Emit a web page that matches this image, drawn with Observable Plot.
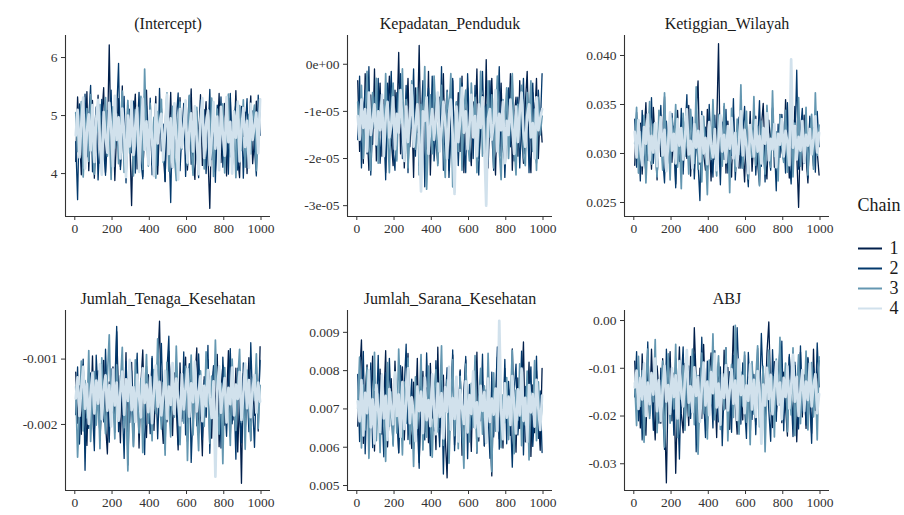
<!DOCTYPE html>
<html><head><meta charset="utf-8">
<script src="https://cdn.jsdelivr.net/npm/d3@7"></script>
<script src="https://cdn.jsdelivr.net/npm/@observablehq/plot@0.6"></script>
<style>
body{margin:0;background:#fff;}
#chart{position:relative;width:904px;height:515px;overflow:hidden;background:#fff;}
#chart svg{position:absolute;overflow:visible;}
</style></head><body><div id="chart"></div>
<script>
const chains = ["1","2","3","4"];
const chainColors = ["#011f4b","#03396c","#6497b1","#d1e1ec"];
const parameters = ["(Intercept)","Kepadatan_Penduduk","Ketiggian_Wilayah","Jumlah_Tenaga_Kesehatan","Jumlah_Sarana_Kesehatan","ABJ"];
const xTicks = [0,200,400,600,800,1000];
const xTickLabels = ["0","200","400","600","800","1000"];

// (Intercept)
const interceptC1 = [4.21,5.32,4.65,3.98,5.12,4.44,5.41,4.05,4.88,5.26,3.92,4.71,5.35,4.18,4.96,5.48,4.02,4.57,6.22,4.33,5.05,3.88,4.76,5.29,4.12,5.51,4.40,3.97,5.18,4.63,3.45,4.92,5.37,4.08,4.69,5.22,3.95,4.84,5.44,4.27,5.09,4.15,4.58,5.33,3.99,4.81,5.14,4.36,3.86,5.27,4.52,5.40,4.10,4.74,5.02,3.94,5.31,4.47,4.89,5.19,4.06,4.67,5.46,4.23,3.90,5.08,4.55,5.36,4.14,4.79,5.24,4.31,3.40,4.98,5.13,4.03,4.61,5.38,4.19,4.86,5.21,3.96,4.72,5.30,4.09,4.50,5.43,4.26,3.93,5.16,4.64,5.06,4.00,4.83,5.34,4.17,4.59,5.25,4.37,5.28];
const interceptC2 = [4.55,3.55,5.20,4.88,4.12,5.37,4.29,4.96,5.52,4.03,4.70,5.15,3.89,4.62,5.28,4.41,3.97,5.09,4.80,5.44,4.18,4.93,5.05,5.90,4.07,4.58,5.33,3.84,4.75,5.11,4.36,5.25,4.01,4.67,5.40,4.22,3.91,4.99,5.17,4.45,5.30,3.98,4.73,5.06,4.14,5.47,4.39,4.85,3.87,5.23,4.60,3.50,5.13,4.28,4.94,5.39,4.05,4.68,5.21,3.95,4.82,5.34,4.16,4.53,5.02,4.32,3.93,5.27,4.77,5.10,4.00,4.63,5.45,4.24,4.91,3.85,5.18,4.46,5.32,4.11,4.72,5.04,3.99,5.38,4.34,4.87,5.22,4.06,4.59,5.14,3.92,4.78,5.29,4.20,4.95,5.08,4.43,3.96,5.35,4.66];
const interceptC3 = [5.05,4.38,4.80,5.24,3.94,4.66,5.12,4.21,5.36,4.49,3.99,5.00,4.73,5.19,4.10,4.59,5.31,4.30,4.86,3.90,5.15,4.44,5.03,4.17,4.78,5.42,4.02,4.64,5.26,4.35,4.91,3.96,5.10,4.54,4.25,5.33,4.07,5.80,4.61,4.13,5.21,4.48,4.97,3.92,5.07,4.70,5.28,4.19,4.83,5.39,4.04,4.57,5.16,4.32,3.88,4.95,5.23,4.42,4.76,5.01,4.15,5.35,4.51,3.97,4.89,5.14,4.27,4.69,5.25,4.08,4.81,5.04,4.37,5.30,3.95,4.62,5.11,4.23,4.90,5.20,4.01,4.74,5.37,4.29,4.56,5.08,3.93,4.85,5.17,4.40,5.27,4.11,4.67,5.02,4.34,4.93,5.18,4.05,4.71,5.22];
const interceptC4 = [4.66,5.10,4.28,4.85,5.31,4.09,4.74,5.02,4.40,5.18,4.20,4.92,5.27,4.55,3.98,5.06,4.63,4.36,5.22,4.79,4.12,5.34,4.58,4.97,4.26,5.12,4.70,3.94,5.00,4.47,5.25,4.32,4.82,5.14,4.03,4.68,5.29,4.41,4.90,4.16,5.08,4.60,3.96,5.19,4.52,4.87,5.03,4.23,4.75,5.36,4.34,4.95,4.11,5.21,4.64,3.90,5.11,4.45,4.80,5.26,4.19,4.72,5.04,4.38,5.16,4.57,3.99,4.93,5.30,4.27,4.84,5.09,4.14,4.61,5.23,4.43,4.98,4.06,5.15,4.69,4.31,5.32,4.54,4.89,4.00,5.07,4.62,5.24,4.21,4.78,5.13,4.46,4.91,4.10,5.20,4.58,4.83,5.05,4.35,5.28];

// Kepadatan_Penduduk
const kepadatanC1 = [-0.35e-5,-1.85e-5,-0.90e-5,-2.10e-5,-0.20e-5,-1.40e-5,-2.25e-5,-0.65e-5,-1.70e-5,-0.10e-5,-2.05e-5,-1.15e-5,-0.40e-5,-1.95e-5,-0.75e-5,-2.30e-5,-1.05e-5,-0.25e-5,-1.60e-5,-2.15e-5,-0.55e-5,-1.30e-5,0.25e-5,-1.90e-5,-0.80e-5,-2.20e-5,-1.25e-5,-0.30e-5,-1.75e-5,-0.95e-5,-2.40e-5,-0.50e-5,-1.45e-5,0.40e-5,-2.00e-5,-1.10e-5,-0.60e-5,-1.80e-5,-0.15e-5,-2.35e-5,-1.00e-5,-0.45e-5,-1.65e-5,-2.10e-5,-0.70e-5,-1.35e-5,-0.20e-5,-1.95e-5,-0.85e-5,-2.25e-5,-1.20e-5,-0.35e-5,-2.05e-5,-1.55e-5,-0.60e-5,-1.85e-5,-0.25e-5,-2.30e-5,-1.05e-5,-0.50e-5,-1.70e-5,-2.15e-5,-0.80e-5,-1.30e-5,-0.10e-5,-2.00e-5,-1.45e-5,-0.65e-5,-1.90e-5,0.10e-5,-2.20e-5,-1.00e-5,-0.30e-5,-1.60e-5,-2.35e-5,-0.75e-5,-1.25e-5,-0.40e-5,-1.80e-5,-2.05e-5,-0.55e-5,-1.40e-5,-0.20e-5,-2.25e-5,-1.10e-5,-0.70e-5,-1.95e-5,-0.35e-5,-1.50e-5,-2.10e-5,-0.85e-5,-0.15e-5,-1.75e-5,-2.30e-5,-0.60e-5,-1.20e-5,-0.30e-5,-2.00e-5,-0.95e-5,-1.65e-5];
const kepadatanC2 = [-1.60e-5,-0.25e-5,-2.20e-5,-1.00e-5,-0.55e-5,-1.90e-5,-0.05e-5,-2.35e-5,-1.30e-5,-0.70e-5,-1.75e-5,-0.30e-5,-2.10e-5,-1.45e-5,-0.85e-5,-2.45e-5,-0.40e-5,-1.20e-5,-0.15e-5,-1.85e-5,-2.25e-5,-0.60e-5,-1.05e-5,-0.20e-5,-2.00e-5,-1.55e-5,-0.45e-5,-2.30e-5,-0.90e-5,-1.35e-5,-0.10e-5,-1.95e-5,-0.65e-5,-2.15e-5,-1.25e-5,-0.35e-5,-2.60e-5,-1.00e-5,-0.50e-5,-1.70e-5,-0.25e-5,-2.05e-5,-1.40e-5,-0.75e-5,-1.85e-5,-0.05e-5,-2.25e-5,-1.15e-5,-0.55e-5,-2.40e-5,-1.50e-5,-0.30e-5,-1.90e-5,-0.80e-5,-2.15e-5,-1.10e-5,-0.40e-5,-1.65e-5,-2.30e-5,-0.20e-5,-1.30e-5,-0.70e-5,-2.00e-5,-0.45e-5,-1.80e-5,-2.35e-5,-1.05e-5,-0.15e-5,-1.55e-5,-0.85e-5,-2.10e-5,-0.35e-5,-1.45e-5,-2.25e-5,-0.60e-5,-1.20e-5,-0.05e-5,-1.95e-5,-0.90e-5,-2.40e-5,-1.35e-5,-0.50e-5,-1.75e-5,-0.25e-5,-2.05e-5,-1.00e-5,-0.70e-5,-2.20e-5,-1.25e-5,-0.30e-5,-1.90e-5,-0.80e-5,-2.30e-5,-1.15e-5,-0.40e-5,-1.60e-5,-2.10e-5,-0.55e-5,-1.40e-5,-0.20e-5];
const kepadatanC3 = [-0.80e-5,-1.55e-5,-0.45e-5,-2.00e-5,-1.20e-5,-0.15e-5,-1.75e-5,-2.25e-5,-0.60e-5,-1.35e-5,-0.30e-5,-2.10e-5,-1.00e-5,-0.70e-5,-1.85e-5,-0.20e-5,-1.45e-5,-2.30e-5,-0.90e-5,-0.40e-5,-1.65e-5,-2.05e-5,-0.55e-5,-1.25e-5,-0.10e-5,-1.95e-5,-0.75e-5,-2.20e-5,-1.40e-5,-0.35e-5,-1.10e-5,-1.80e-5,-0.50e-5,-2.35e-5,-0.85e-5,-1.30e-5,-0.05e-5,-2.65e-5,-1.50e-5,-0.65e-5,-1.90e-5,-0.25e-5,-1.15e-5,-2.15e-5,-0.95e-5,-0.45e-5,-1.70e-5,-2.40e-5,-0.60e-5,-1.05e-5,-0.20e-5,-2.60e-5,-1.35e-5,-0.80e-5,-1.85e-5,-0.30e-5,-2.25e-5,-1.00e-5,-0.55e-5,-1.60e-5,-2.05e-5,-0.40e-5,-1.25e-5,-0.70e-5,-2.30e-5,-1.45e-5,-0.15e-5,-1.95e-5,-0.90e-5,-2.10e-5,-0.35e-5,-1.55e-5,-0.65e-5,-2.20e-5,-1.15e-5,-0.25e-5,-1.80e-5,-2.45e-5,-0.75e-5,-1.30e-5,-0.50e-5,-2.00e-5,-1.05e-5,-0.20e-5,-1.70e-5,-2.35e-5,-0.85e-5,-1.40e-5,-0.45e-5,-1.95e-5,-2.15e-5,-0.60e-5,-1.20e-5,-0.35e-5,-1.85e-5,-0.95e-5,-2.25e-5,-0.70e-5,-1.50e-5,-1.10e-5];
const kepadatanC4 = [-1.10e-5,-1.60e-5,-0.75e-5,-1.35e-5,-0.95e-5,-1.85e-5,-0.60e-5,-1.50e-5,-1.20e-5,-0.85e-5,-1.70e-5,-1.00e-5,-1.40e-5,-0.65e-5,-1.95e-5,-1.15e-5,-0.80e-5,-1.55e-5,-1.30e-5,-0.70e-5,-1.80e-5,-1.05e-5,-1.45e-5,-0.55e-5,-1.25e-5,-2.05e-5,-0.90e-5,-1.65e-5,-1.10e-5,-0.45e-5,-1.75e-5,-1.35e-5,-0.85e-5,-1.55e-5,-2.70e-5,-1.00e-5,-1.20e-5,-0.70e-5,-1.90e-5,-1.30e-5,-0.95e-5,-1.60e-5,-1.15e-5,-0.60e-5,-1.85e-5,-1.40e-5,-0.80e-5,-1.25e-5,-2.00e-5,-1.05e-5,-0.75e-5,-1.50e-5,-2.75e-5,-0.90e-5,-1.65e-5,-1.20e-5,-0.50e-5,-1.45e-5,-1.00e-5,-1.80e-5,-1.30e-5,-0.65e-5,-1.55e-5,-1.10e-5,-1.95e-5,-0.85e-5,-1.35e-5,-0.70e-5,-1.70e-5,-3.00e-5,-1.15e-5,-0.95e-5,-1.60e-5,-1.25e-5,-0.55e-5,-1.85e-5,-1.05e-5,-1.40e-5,-0.80e-5,-2.10e-5,-1.20e-5,-1.50e-5,-0.75e-5,-1.35e-5,-1.90e-5,-0.90e-5,-1.65e-5,-1.00e-5,-0.60e-5,-1.45e-5,-1.75e-5,-1.10e-5,-0.85e-5,-1.55e-5,-1.25e-5,-2.00e-5,-0.70e-5,-1.40e-5,-1.15e-5,-0.95e-5];

// Ketiggian_Wilayah
const ketinggianC1 = [.0288,.0342,.0301,.0331,.0279,.0318,.0352,.0293,.0326,.0284,.0347,.0309,.0273,.0335,.0297,.0322,.0358,.0286,.0314,.0339,.0291,.0328,.0269,.0344,.0303,.0281,.0336,.0312,.0295,.0349,.0277,.0321,.0306,.0341,.0374,.0289,.0330,.0299,.0283,.0345,.0316,.0272,.0337,.0294,.0325,.0412,.0287,.0310,.0348,.0280,.0333,.0302,.0276,.0340,.0292,.0319,.0285,.0353,.0307,.0271,.0329,.0296,.0343,.0282,.0313,.0338,.0290,.0268,.0327,.0351,.0298,.0274,.0334,.0308,.0346,.0286,.0320,.0279,.0340,.0304,.0293,.0355,.0315,.0275,.0332,.0289,.0348,.0300,.0245,.0324,.0283,.0339,.0297,.0270,.0336,.0311,.0287,.0344,.0302,.0278];
const ketinggianC2 = [.0335,.0286,.0319,.0272,.0344,.0300,.0281,.0338,.0308,.0357,.0290,.0326,.0277,.0311,.0349,.0295,.0270,.0333,.0303,.0284,.0341,.0314,.0265,.0328,.0292,.0346,.0279,.0321,.0360,.0288,.0305,.0337,.0274,.0317,.0290,.0252,.0343,.0299,.0327,.0282,.0350,.0306,.0276,.0339,.0289,.0316,.0268,.0332,.0294,.0345,.0280,.0323,.0298,.0356,.0273,.0310,.0337,.0285,.0320,.0348,.0291,.0266,.0329,.0304,.0342,.0278,.0313,.0354,.0287,.0325,.0271,.0336,.0301,.0283,.0347,.0309,.0262,.0330,.0296,.0340,.0318,.0280,.0352,.0293,.0269,.0334,.0306,.0385,.0284,.0322,.0346,.0290,.0312,.0275,.0338,.0299,.0326,.0281,.0343,.0307];
const ketinggianC3 = [.0310,.0347,.0280,.0322,.0295,.0339,.0270,.0315,.0353,.0289,.0330,.0302,.0276,.0344,.0318,.0283,.0362,.0298,.0324,.0273,.0336,.0307,.0350,.0286,.0319,.0264,.0341,.0297,.0327,.0279,.0345,.0312,.0290,.0368,.0284,.0323,.0271,.0338,.0305,.0258,.0332,.0294,.0355,.0301,.0277,.0340,.0316,.0287,.0351,.0293,.0325,.0260,.0346,.0309,.0282,.0335,.0299,.0370,.0285,.0317,.0343,.0274,.0321,.0296,.0358,.0288,.0328,.0267,.0333,.0303,.0279,.0349,.0311,.0286,.0364,.0297,.0322,.0272,.0339,.0306,.0291,.0344,.0281,.0319,.0352,.0276,.0331,.0300,.0357,.0287,.0326,.0294,.0347,.0278,.0315,.0340,.0284,.0362,.0298,.0329];
const ketinggianC4 = [.0322,.0296,.0334,.0305,.0288,.0327,.0310,.0340,.0293,.0318,.0301,.0331,.0287,.0315,.0337,.0298,.0324,.0282,.0312,.0342,.0303,.0320,.0290,.0335,.0308,.0326,.0294,.0317,.0345,.0299,.0313,.0285,.0330,.0306,.0323,.0292,.0338,.0300,.0316,.0289,.0332,.0309,.0296,.0325,.0283,.0314,.0339,.0302,.0319,.0291,.0328,.0305,.0336,.0295,.0321,.0287,.0311,.0343,.0298,.0324,.0307,.0280,.0329,.0313,.0297,.0334,.0302,.0318,.0290,.0326,.0310,.0341,.0293,.0315,.0304,.0330,.0286,.0320,.0309,.0335,.0297,.0323,.0311,.0288,.0396,.0306,.0328,.0294,.0317,.0303,.0333,.0291,.0319,.0308,.0325,.0299,.0314,.0338,.0301,.0321];

// Jumlah_Tenaga_Kesehatan
const tenagaC1 = [-.00120,-.00198,-.00141,-.00215,-.00108,-.00176,-.00232,-.00129,-.00190,-.00095,-.00207,-.00152,-.00118,-.00224,-.00166,-.00102,-.00199,-.00245,-.00135,-.00184,-.00112,-.00212,-.00058,-.00158,-.00228,-.00126,-.00194,-.00090,-.00262,-.00147,-.00105,-.00203,-.00171,-.00116,-.00236,-.00139,-.00086,-.00187,-.00220,-.00124,-.00162,-.00099,-.00209,-.00145,-.00113,-.00042,-.00181,-.00229,-.00131,-.00196,-.00088,-.00154,-.00217,-.00121,-.00175,-.00239,-.00106,-.00191,-.00143,-.00097,-.00226,-.00160,-.00115,-.00205,-.00133,-.00083,-.00213,-.00170,-.00248,-.00127,-.00189,-.00101,-.00157,-.00221,-.00119,-.00183,-.00093,-.00234,-.00148,-.00110,-.00201,-.00165,-.00087,-.00218,-.00137,-.00193,-.00114,-.00242,-.00155,-.00290,-.00122,-.00208,-.00168,-.00098,-.00225,-.00144,-.00186,-.00109,-.00210,-.00081];
const tenagaC2 = [-.00185,-.00112,-.00230,-.00160,-.00100,-.00270,-.00138,-.00206,-.00121,-.00178,-.00240,-.00094,-.00153,-.00219,-.00131,-.00196,-.00085,-.00167,-.00227,-.00115,-.00182,-.00140,-.00050,-.00211,-.00125,-.00172,-.00252,-.00104,-.00163,-.00197,-.00118,-.00233,-.00149,-.00091,-.00204,-.00136,-.00180,-.00246,-.00111,-.00158,-.00214,-.00096,-.00174,-.00128,-.00222,-.00142,-.00076,-.00188,-.00238,-.00117,-.00065,-.00200,-.00134,-.00169,-.00103,-.00231,-.00150,-.00195,-.00089,-.00216,-.00145,-.00107,-.00258,-.00177,-.00123,-.00202,-.00092,-.00161,-.00223,-.00132,-.00187,-.00079,-.00244,-.00146,-.00110,-.00208,-.00173,-.00126,-.00236,-.00097,-.00164,-.00218,-.00139,-.00084,-.00199,-.00151,-.00253,-.00114,-.00179,-.00228,-.00106,-.00192,-.00143,-.00211,-.00075,-.00170,-.00235,-.00129,-.00183,-.00102];
const tenagaC3 = [-.00142,-.00250,-.00175,-.00103,-.00210,-.00133,-.00190,-.00087,-.00226,-.00156,-.00119,-.00201,-.00147,-.00237,-.00098,-.00170,-.00214,-.00127,-.00063,-.00185,-.00159,-.00222,-.00109,-.00195,-.00138,-.00082,-.00205,-.00161,-.00271,-.00120,-.00177,-.00234,-.00101,-.00150,-.00213,-.00130,-.00243,-.00168,-.00093,-.00198,-.00144,-.00225,-.00116,-.00183,-.00069,-.00157,-.00207,-.00136,-.00247,-.00105,-.00173,-.00219,-.00124,-.00189,-.00080,-.00164,-.00231,-.00141,-.00198,-.00111,-.00255,-.00152,-.00094,-.00216,-.00134,-.00179,-.00240,-.00118,-.00166,-.00203,-.00089,-.00148,-.00229,-.00126,-.00186,-.00071,-.00171,-.00215,-.00137,-.00260,-.00113,-.00192,-.00154,-.00232,-.00100,-.00176,-.00209,-.00132,-.00085,-.00197,-.00149,-.00238,-.00117,-.00181,-.00224,-.00128,-.00163,-.00092,-.00206,-.00140];
const tenagaC4 = [-.00160,-.00128,-.00187,-.00145,-.00112,-.00176,-.00138,-.00199,-.00152,-.00121,-.00183,-.00133,-.00168,-.00108,-.00192,-.00147,-.00125,-.00179,-.00140,-.00203,-.00116,-.00171,-.00136,-.00194,-.00150,-.00119,-.00185,-.00131,-.00164,-.00101,-.00178,-.00143,-.00196,-.00124,-.00157,-.00189,-.00114,-.00167,-.00139,-.00181,-.00127,-.00198,-.00149,-.00110,-.00173,-.00135,-.00186,-.00155,-.00118,-.00191,-.00142,-.00170,-.00106,-.00184,-.00130,-.00162,-.00201,-.00123,-.00177,-.00146,-.00115,-.00188,-.00137,-.00166,-.00104,-.00180,-.00151,-.00126,-.00195,-.00141,-.00172,-.00117,-.00159,-.00190,-.00134,-.00280,-.00148,-.00111,-.00182,-.00153,-.00129,-.00197,-.00144,-.00169,-.00113,-.00186,-.00139,-.00161,-.00120,-.00193,-.00154,-.00107,-.00175,-.00132,-.00189,-.00146,-.00124,-.00182,-.00136,-.00165];

// Jumlah_Sarana_Kesehatan
const saranaC1 = [.00655,.00785,.00880,.00610,.00742,.00815,.00628,.00703,.00838,.00590,.00760,.00672,.00804,.00634,.00721,.00852,.00601,.00688,.00779,.00642,.00825,.00695,.00585,.00748,.00810,.00619,.00730,.00845,.00663,.00597,.00770,.00681,.00832,.00560,.00715,.00798,.00640,.00755,.00612,.00819,.00676,.00737,.00594,.00861,.00651,.00708,.00788,.00625,.00520,.00766,.00699,.00841,.00606,.00727,.00660,.00802,.00579,.00745,.00828,.00637,.00711,.00589,.00793,.00667,.00848,.00616,.00734,.00773,.00603,.00690,.00812,.00646,.00525,.00758,.00683,.00835,.00622,.00719,.00598,.00806,.00670,.00752,.00631,.00857,.00702,.00587,.00781,.00649,.00740,.00875,.00614,.00696,.00822,.00576,.00763,.00638,.00800,.00680,.00592,.00806];
const saranaC2 = [.00790,.00615,.00712,.00850,.00583,.00735,.00660,.00820,.00599,.00746,.00678,.00840,.00625,.00703,.00575,.00795,.00654,.00832,.00691,.00608,.00768,.00722,.00586,.00813,.00645,.00755,.00869,.00620,.00697,.00778,.00596,.00730,.00663,.00545,.00801,.00684,.00619,.00846,.00709,.00578,.00757,.00643,.00826,.00693,.00601,.00775,.00530,.00718,.00808,.00635,.00682,.00854,.00591,.00741,.00657,.00798,.00612,.00725,.00837,.00570,.00764,.00648,.00705,.00819,.00584,.00738,.00669,.00843,.00604,.00750,.00687,.00571,.00796,.00627,.00731,.00862,.00595,.00714,.00656,.00829,.00609,.00772,.00686,.00548,.00743,.00817,.00632,.00699,.00851,.00580,.00759,.00641,.00733,.00810,.00602,.00694,.00838,.00623,.00747,.00586];
const saranaC3 = [.00700,.00835,.00598,.00762,.00645,.00808,.00571,.00728,.00671,.00848,.00617,.00739,.00586,.00790,.00692,.00563,.00821,.00655,.00744,.00603,.00797,.00637,.00856,.00714,.00580,.00770,.00662,.00833,.00609,.00726,.00550,.00784,.00649,.00706,.00842,.00593,.00754,.00626,.00812,.00679,.00574,.00735,.00803,.00640,.00720,.00865,.00605,.00689,.00776,.00558,.00710,.00829,.00630,.00751,.00596,.00785,.00668,.00545,.00817,.00701,.00614,.00767,.00652,.00839,.00588,.00729,.00806,.00634,.00760,.00611,.00845,.00675,.00536,.00794,.00642,.00724,.00871,.00599,.00737,.00664,.00782,.00620,.00716,.00853,.00583,.00749,.00671,.00818,.00604,.00732,.00658,.00799,.00567,.00743,.00685,.00826,.00617,.00771,.00649,.00713];
const saranaC4 = [.00720,.00668,.00775,.00631,.00742,.00689,.00801,.00652,.00725,.00610,.00763,.00697,.00640,.00788,.00675,.00734,.00619,.00752,.00703,.00660,.00795,.00682,.00738,.00627,.00770,.00648,.00711,.00806,.00663,.00730,.00686,.00616,.00758,.00694,.00745,.00637,.00782,.00671,.00723,.00655,.00790,.00700,.00634,.00766,.00679,.00741,.00623,.00757,.00692,.00810,.00646,.00728,.00674,.00784,.00615,.00749,.00705,.00661,.00772,.00639,.00736,.00687,.00798,.00651,.00717,.00629,.00760,.00695,.00744,.00612,.00779,.00666,.00727,.00685,.00753,.00642,.00930,.00698,.00621,.00767,.00677,.00732,.00658,.00786,.00708,.00636,.00751,.00683,.00805,.00669,.00729,.00614,.00762,.00691,.00739,.00654,.00776,.00702,.00645,.00735];

// ABJ
const abjC1 = [-.0085,-.0190,-.0120,-.0225,-.0070,-.0165,-.0240,-.0105,-.0200,-.0060,-.0175,-.0250,-.0095,-.0150,-.0215,-.0080,-.0185,-.0340,-.0130,-.0065,-.0210,-.0110,-.0320,-.0160,-.0055,-.0195,-.0235,-.0090,-.0145,-.0220,-.0075,-.0180,-.0015,-.0125,-.0260,-.0100,-.0205,-.0050,-.0170,-.0230,-.0115,-.0068,-.0195,-.0135,-.0245,-.0088,-.0155,-.0212,-.0062,-.0185,-.0098,-.0228,-.0140,-.0012,-.0176,-.0238,-.0082,-.0164,-.0208,-.0072,-.0192,-.0118,-.0248,-.0092,-.0158,-.0218,-.0058,-.0172,-.0232,-.0102,-.0186,-.0068,-.0003,-.0148,-.0224,-.0086,-.0198,-.0128,-.0054,-.0214,-.0108,-.0182,-.0242,-.0076,-.0162,-.0206,-.0094,-.0254,-.0138,-.0066,-.0202,-.0114,-.0226,-.0080,-.0168,-.0236,-.0060,-.0188,-.0122,-.0084];
const abjC2 = [-.0160,-.0065,-.0210,-.0120,-.0250,-.0090,-.0175,-.0045,-.0195,-.0135,-.0230,-.0075,-.0155,-.0215,-.0100,-.0185,-.0270,-.0060,-.0145,-.0200,-.0110,-.0240,-.0080,-.0170,-.0290,-.0125,-.0055,-.0220,-.0150,-.0095,-.0205,-.0140,-.0070,-.0275,-.0115,-.0190,-.0035,-.0165,-.0245,-.0085,-.0180,-.0130,-.0225,-.0063,-.0152,-.0212,-.0097,-.0262,-.0142,-.0057,-.0197,-.0107,-.0234,-.0073,-.0163,-.0015,-.0127,-.0217,-.0089,-.0183,-.0247,-.0067,-.0147,-.0207,-.0113,-.0239,-.0079,-.0173,-.0027,-.0137,-.0221,-.0093,-.0189,-.0253,-.0061,-.0157,-.0211,-.0103,-.0177,-.0043,-.0231,-.0119,-.0199,-.0071,-.0149,-.0243,-.0087,-.0167,-.0227,-.0053,-.0193,-.0133,-.0219,-.0077,-.0159,-.0257,-.0099,-.0181,-.0047,-.0139];
const abjC3 = [-.0130,-.0220,-.0075,-.0180,-.0105,-.0255,-.0140,-.0060,-.0205,-.0115,-.0170,-.0040,-.0235,-.0125,-.0190,-.0085,-.0265,-.0150,-.0070,-.0215,-.0135,-.0185,-.0050,-.0245,-.0120,-.0165,-.0095,-.0230,-.0078,-.0200,-.0145,-.0060,-.0218,-.0112,-.0280,-.0155,-.0068,-.0195,-.0128,-.0248,-.0083,-.0175,-.0028,-.0208,-.0138,-.0074,-.0228,-.0118,-.0187,-.0058,-.0252,-.0148,-.0092,-.0203,-.0010,-.0168,-.0238,-.0108,-.0179,-.0066,-.0213,-.0143,-.0260,-.0086,-.0196,-.0124,-.0053,-.0223,-.0160,-.0096,-.0275,-.0134,-.0062,-.0191,-.0117,-.0244,-.0081,-.0171,-.0035,-.0209,-.0153,-.0089,-.0233,-.0126,-.0198,-.0057,-.0241,-.0144,-.0072,-.0216,-.0110,-.0185,-.0064,-.0229,-.0141,-.0088,-.0202,-.0123,-.0250,-.0076];
const abjC4 = [-.0140,-.0105,-.0185,-.0120,-.0165,-.0090,-.0200,-.0130,-.0175,-.0110,-.0155,-.0080,-.0190,-.0125,-.0210,-.0145,-.0095,-.0170,-.0135,-.0195,-.0100,-.0160,-.0115,-.0205,-.0085,-.0150,-.0180,-.0122,-.0062,-.0172,-.0138,-.0192,-.0098,-.0158,-.0118,-.0212,-.0142,-.0088,-.0178,-.0128,-.0198,-.0108,-.0152,-.0070,-.0182,-.0132,-.0218,-.0112,-.0162,-.0094,-.0188,-.0146,-.0102,-.0174,-.0126,-.0208,-.0082,-.0156,-.0116,-.0194,-.0136,-.0168,-.0092,-.0186,-.0124,-.0202,-.0106,-.0150,-.0258,-.0134,-.0178,-.0099,-.0164,-.0114,-.0196,-.0144,-.0086,-.0176,-.0130,-.0206,-.0120,-.0160,-.0096,-.0184,-.0140,-.0072,-.0170,-.0118,-.0200,-.0148,-.0104,-.0190,-.0128,-.0166,-.0090,-.0180,-.0136,-.0112,-.0194,-.0154];

// y tick values and labels per panel
const interceptTicks = [4,5,6], interceptTickLabels = ["4","5","6"];
const kepadatanTicks = [-3e-5,-2e-5,-1e-5,0], kepadatanTickLabels = ["-3e-05","-2e-05","-1e-05","0e+00"];
const ketinggianTicks = [0.025,0.030,0.035,0.040], ketinggianTickLabels = ["0.025","0.030","0.035","0.040"];
const tenagaTicks = [-0.002,-0.001], tenagaTickLabels = ["-0.002","-0.001"];
const saranaTicks = [0.005,0.006,0.007,0.008,0.009], saranaTickLabels = ["0.005","0.006","0.007","0.008","0.009"];
const abjTicks = [-0.03,-0.02,-0.01,0], abjTickLabels = ["-0.03","-0.02","-0.01","0.00"];

const panels = [
  {title: parameters[0], series: [interceptC1,interceptC2,interceptC3,interceptC4], ticks: interceptTicks, labels: interceptTickLabels, domain: [3.26, 6.38]},
  {title: parameters[1], series: [kepadatanC1,kepadatanC2,kepadatanC3,kepadatanC4], ticks: kepadatanTicks, labels: kepadatanTickLabels, domain: [-3.23e-5, 0.61e-5]},
  {title: parameters[2], series: [ketinggianC1,ketinggianC2,ketinggianC3,ketinggianC4], ticks: ketinggianTicks, labels: ketinggianTickLabels, domain: [0.02357, 0.04204]},
  {title: parameters[3], series: [tenagaC1,tenagaC2,tenagaC3,tenagaC4], ticks: tenagaTicks, labels: tenagaTickLabels, domain: [-0.00301, -0.000257]},
  {title: parameters[4], series: [saranaC1,saranaC2,saranaC3,saranaC4], ticks: saranaTicks, labels: saranaTickLabels, domain: [0.00487, 0.00957]},
  {title: parameters[5], series: [abjC1,abjC2,abjC3,abjC4], ticks: abjTicks, labels: abjTickLabels, domain: [-0.0356, 0.0021]}
];

const FONT = '"Liberation Serif","Times New Roman",serif';
const chart = document.getElementById("chart");
const colAxisX = [65, 347, 624];
const rowTop = [35, 310];
const rowBottom = [216, 490];
const frameW = 205;
const ML = 64, MR = 6, MT = 36, MB = 28;
const X0 = -49.95, X1 = 1050.95;
const chainWidths = [1.3, 1.3, 1.7, 2.7];

panels.forEach((p, k) => {
  const col = k % 3, row = Math.floor(k / 3);
  const rows = [];
  p.series.forEach((vals, c) => vals.forEach((v, i) => rows.push({iter: i * 10 + 5, value: v, chain: chains[c]})));
  const frameH = rowBottom[row] - rowTop[row];
  const svg = Plot.plot({
    width: ML + frameW + MR,
    height: MT + frameH + MB,
    marginLeft: ML, marginRight: MR, marginTop: MT, marginBottom: MB,
    style: {fontFamily: FONT, fontSize: "13.5px", color: "#333", background: "transparent", overflow: "visible"},
    x: {domain: [X0, X1], ticks: xTicks, tickFormat: d => xTickLabels[xTicks.indexOf(d)], tickSize: 4, tickPadding: 3, label: null},
    y: {domain: p.domain, ticks: p.ticks, tickFormat: d => p.labels[p.ticks.indexOf(d)], tickSize: 4, tickPadding: 4, label: null},
    color: {domain: chains, range: chainColors},
    marks: [
      ...chains.map((ch, c) => Plot.line(rows.filter(r => r.chain === ch), {x: "iter", y: "value", stroke: "chain", strokeWidth: chainWidths[c]})),
      Plot.ruleX([X0], {stroke: "#333", strokeWidth: 1.1}),
      Plot.ruleY([p.domain[0]], {stroke: "#333", strokeWidth: 1.1}),
      Plot.text([p.title], {frameAnchor: "top", dy: -12, lineAnchor: "middle", textAnchor: "middle", fontSize: 16, fill: "#1a1a1a"})
    ]
  });
  svg.style.left = (colAxisX[col] - ML) + "px";
  svg.style.top = (rowTop[row] - MT) + "px";
  chart.appendChild(svg);
});

// legend
const legend = Plot.plot({
  width: 60, height: 160,
  marginLeft: 14, marginRight: 22, marginTop: 25, marginBottom: 22,
  style: {fontFamily: FONT, fontSize: "18px", color: "#1a1a1a", background: "transparent", overflow: "visible"},
  y: {type: "point", domain: chains, range: [57, 138], axis: null},
  color: {domain: chains, range: chainColors},
  marks: [
    Plot.ruleY(chains, {y: d => d, stroke: d => d, strokeWidth: 2}),
    Plot.text(chains, {y: d => d, text: d => d, frameAnchor: "right", dx: 7, textAnchor: "start", lineAnchor: "middle", fontSize: 18, fill: "#1a1a1a"}),
    Plot.text(["Chain"], {frameAnchor: "top-left", dx: -1, textAnchor: "start", lineAnchor: "middle", fontSize: 18, fill: "#1a1a1a"})
  ]
});
legend.style.left = "844px";
legend.style.top = "180px";
chart.appendChild(legend);
</script></body></html>
